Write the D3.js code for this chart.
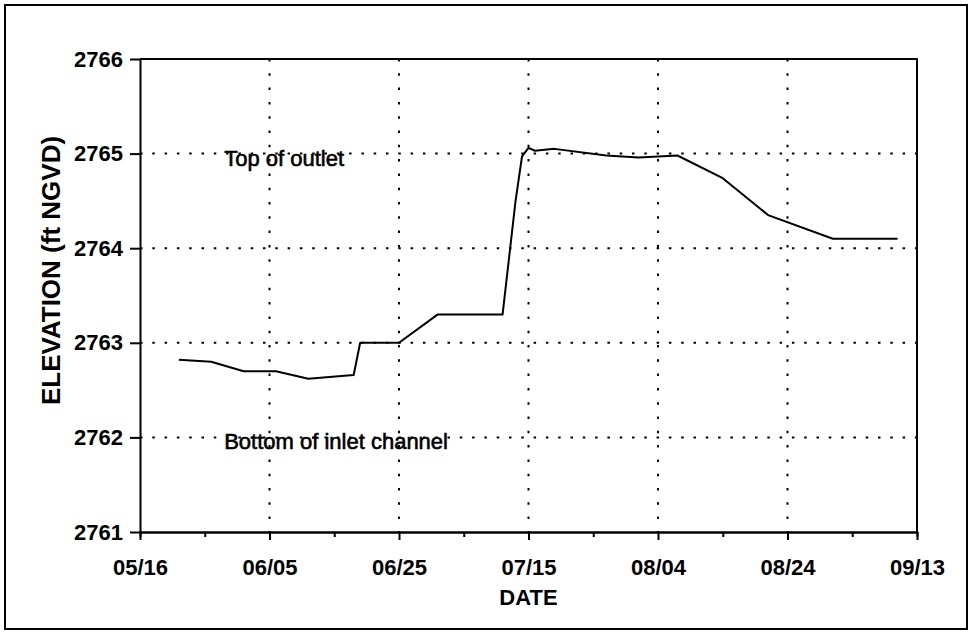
<!DOCTYPE html>
<html>
<head>
<meta charset="utf-8">
<script src="https://cdn.jsdelivr.net/npm/d3@7"></script>
<style>
  body { margin: 0; background: #fff; }
  .chart text { font-family: "Liberation Sans", Arial, sans-serif; fill: #000; }
  .axis path, .axis line { stroke: #000; stroke-width: 2; }
  .axis text { font-size: 22px; font-weight: bold; }
  .grid line { stroke: #000; stroke-width: 2; }
  .note { stroke: #000; stroke-width: 0.6; }
</style>
</head>
<body>
<svg class="chart" width="974" height="632"></svg>
<script>
var dates = ["05/22", "05/27", "06/01", "06/06", "06/11", "06/18", "06/19", "06/25",
             "07/01", "07/11", "07/13", "07/14", "07/15", "07/16", "07/19", "07/27",
             "08/01", "08/07", "08/14", "08/21", "08/31", "09/10"];
var elevation = [2762.82, 2762.80, 2762.70, 2762.70, 2762.62, 2762.66, 2763.00, 2763.00,
                 2763.30, 2763.30, 2764.50, 2764.97, 2765.06, 2765.03, 2765.05, 2764.98,
                 2764.96, 2764.98, 2764.74, 2764.35, 2764.10, 2764.10];

var xTickLabels = ["05/16", "06/05", "06/25", "07/15", "08/04", "08/24", "09/13"];
var xMinorLabels = ["05/26", "06/15", "07/05", "07/25", "08/14", "09/03"];
var yTicks = [2761, 2762, 2763, 2764, 2765, 2766];

var notes = [
  {text: "Top of outlet", date: "05/29", value: 2765},
  {text: "Bottom of inlet channel", date: "05/29", value: 2762}
];

(function() {
  var margin = {top: 59, right: 57, bottom: 100, left: 140};

  var svg = d3.select(".chart"),
      svgWidth  = +svg.attr("width"),
      svgHeight = +svg.attr("height"),
      width = svgWidth - margin.left - margin.right,
      height = svgHeight - margin.top - margin.bottom;

  var parse = d3.timeParse("%m/%d");

  // outer frame
  svg.append("rect")
    .attr("x", 5)
    .attr("y", 5)
    .attr("width", 962)
    .attr("height", 624)
    .attr("fill", "none")
    .attr("stroke", "#000")
    .attr("stroke-width", 2);

  var chart = svg.append("g")
    .attr("transform", "translate(" + margin.left + "," + margin.top + ")");

  var xScale = d3.scaleTime()
    .domain([parse(xTickLabels[0]), parse(xTickLabels[xTickLabels.length - 1])])
    .range([0, width]);

  var yScale = d3.scaleLinear()
    .domain([yTicks[0], yTicks[yTicks.length - 1]])
    .range([height, 0]);

  var data = dates.map(function(d, i) {
    return {date: parse(d), value: elevation[i]};
  });

  // dotted grid
  chart.append("g")
    .classed("grid", true)
    .selectAll("line")
    .data(yTicks.slice(1, -1))
    .enter().append("line")
    .attr("x1", 0)
    .attr("x2", width)
    .attr("y1", function(d) { return yScale(d); })
    .attr("y2", function(d) { return yScale(d); })
    .attr("stroke-dasharray", "2.5,9.8");

  chart.append("g")
    .classed("grid", true)
    .selectAll("line")
    .data(xTickLabels.slice(1, -1))
    .enter().append("line")
    .attr("x1", function(d) { return xScale(parse(d)); })
    .attr("x2", function(d) { return xScale(parse(d)); })
    .attr("y1", 0)
    .attr("y2", height)
    .attr("stroke-dasharray", "2.5,11.8");

  // top and right borders of the plot
  chart.append("path")
    .attr("d", "M0,0H" + width + "V" + height)
    .attr("fill", "none")
    .attr("stroke", "#000")
    .attr("stroke-width", 2);

  // Add the x Axis (minor ticks then labelled ticks)
  chart.append("g")
    .classed("axis", true)
    .attr("transform", "translate(0," + height + ")")
    .call(d3.axisBottom(xScale)
      .tickValues(xMinorLabels.map(parse))
      .tickSize(5)
      .tickFormat(""));

  chart.append("g")
    .classed("axis", true)
    .attr("transform", "translate(0," + height + ")")
    .call(d3.axisBottom(xScale)
      .tickValues(xTickLabels.map(parse))
      .tickSize(8)
      .tickSizeOuter(0)
      .tickPadding(19)
      .tickFormat(d3.timeFormat("%m/%d")));

  // Add the y Axis
  chart.append("g")
    .classed("axis", true)
    .call(d3.axisLeft(yScale)
      .tickValues(yTicks)
      .tickSize(10)
      .tickSizeOuter(0)
      .tickPadding(7)
      .tickFormat(d3.format("d")));

  // elevation line
  var line = d3.line()
    .x(function(d) { return xScale(d.date); })
    .y(function(d) { return yScale(d.value); });

  chart.append("path")
    .datum(data)
    .attr("d", line)
    .attr("fill", "none")
    .attr("stroke", "#000")
    .attr("stroke-width", 2)
    .attr("stroke-linejoin", "round");

  // reference labels
  chart.selectAll(".note")
    .data(notes)
    .enter().append("text")
    .classed("note", true)
    .attr("x", function(d) { return xScale(parse(d.date)); })
    .attr("y", function(d) { return yScale(d.value) + 12; })
    .style("font-size", "22px")
    .text(function(d) { return d.text; });

  // axis titles
  chart.append("text")
    .attr("x", width / 2)
    .attr("y", height + 73)
    .style("text-anchor", "middle")
    .style("font-size", "22px")
    .style("font-weight", "bold")
    .text("DATE");

  chart.append("text")
    .attr("transform", "translate(" + (-80) + "," + (height / 2 - 25) + ") rotate(-90)")
    .style("text-anchor", "middle")
    .style("font-size", "26px")
    .style("font-weight", "bold")
    .text("ELEVATION (ft NGVD)");
})();
</script>
</body>
</html>
